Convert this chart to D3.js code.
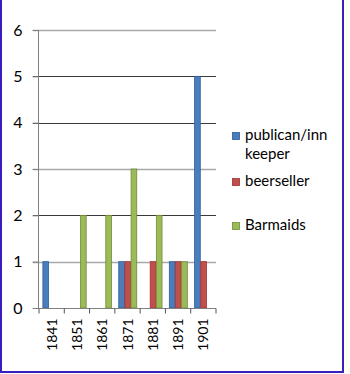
<!DOCTYPE html>
<html><head><meta charset="utf-8">
<script src="https://cdn.jsdelivr.net/npm/d3@7"></script>
<style>
html,body{margin:0;padding:0;background:#fffef4;}
svg{display:block;}
</style></head>
<body>
<script>
const categories = ["1841","1851","1861","1871","1881","1891","1901"];
const seriesNames = ["publican/inn keeper","beerseller","Barmaids"];
const publican = [1,0,0,1,0,1,5];
const beerseller = [0,0,0,1,1,1,1];
const barmaids = [0,2,2,3,2,1,0];
const yTicks = [0,1,2,3,4,5,6];
const legendLines = [["publican/inn","keeper"],["beerseller"],["Barmaids"]];

const series = [publican, beerseller, barmaids];
const fills = ["#4a7ebb","#c0504d","#9bbb59"];
const strokes = ["#2c5d9c","#a3302d","#6f8b36"];
const W = 350, H = 374;
const svg = d3.select("body").append("svg").attr("width", W).attr("height", H);

// frame
svg.append("rect").attr("x",0).attr("y",0).attr("width",344).attr("height",373).attr("fill","#fff");
svg.append("path").attr("d","M1,0 V372 H343 V0").attr("fill","none").attr("stroke","#3a1dbf").attr("stroke-width",2);

const x = d3.scaleBand().domain(categories).range([39,216]).paddingInner(0).paddingOuter(0);
const xs = d3.scaleBand().domain(d3.range(3)).range([0, x.bandwidth()]).paddingInner(0).paddingOuter(0.55);
const y = d3.scaleLinear().domain([0,6]).range([308,30]);

const font = "Lato, 'Open Sans', sans-serif";

// gridlines
const gridColor = {0:"#888",1:"#a8a8a8",2:"#3a3a3a",3:"#a8a8a8",4:"#3a3a3a",5:"#3a3a3a",6:"#a8a8a8"};
svg.append("g").selectAll("line").data(yTicks.filter(d=>d>0)).join("line")
  .attr("x1",33).attr("x2",216)
  .attr("y1",d=>Math.round(y(d))+0.5).attr("y2",d=>Math.round(y(d))+0.5)
  .attr("stroke",d=>gridColor[d]).attr("stroke-width",d=>gridColor[d]==="#a8a8a8"?1.6:1);

// bars
const groups = svg.append("g").selectAll("g").data(categories).join("g")
  .attr("transform",d=>`translate(${x(d)},0)`);
groups.selectAll("rect").data((c,i)=>series.map((s,k)=>({k, v:s[i]})).filter(d=>d.v>0)).join("rect")
  .attr("x",d=>xs(d.k)+0.5).attr("width",xs.bandwidth()-0.5)
  .attr("y",d=>y(d.v)).attr("height",d=>y(0)-y(d.v))
  .attr("fill",d=>fills[d.k]).attr("stroke",d=>strokes[d.k]).attr("stroke-width",0.8);

// y axis
const yAxis = d3.axisLeft(y).tickValues(yTicks).tickFormat(d3.format("d")).tickSize(6).tickPadding(10);
const gy = svg.append("g").attr("transform","translate(38.5,0)").call(yAxis);
gy.select(".domain").attr("stroke","#808080").attr("d","M0,30V308");
gy.selectAll(".tick line").attr("stroke","#808080");
gy.selectAll(".tick text").attr("font-family",font).attr("font-size",16).attr("fill","#000");

// x axis
const gx = svg.append("g").attr("transform","translate(0,308.5)");
gx.append("line").attr("x1",33).attr("x2",216).attr("stroke","#808080");
gx.selectAll("line.t").data(categories.concat([null])).join("line").attr("class","t")
  .attr("x1",(d,i)=>i<categories.length?x(d):x.range()[1]).attr("x2",(d,i)=>i<categories.length?x(d):x.range()[1])
  .attr("y1",0).attr("y2",5).attr("stroke","#555");
gx.selectAll("text").data(categories).join("text")
  .attr("transform",d=>`translate(${x(d)+x.bandwidth()/2+5},10) rotate(-90)`)
  .attr("text-anchor","end").attr("font-family",font).attr("font-size",14).text(d=>d);

// legend
const lg = svg.append("g");
const legY = [140, 186, 230];
legendLines.forEach((lines,i)=>{
  lg.append("rect").attr("x",232.5).attr("y",legY[i]-7.5).attr("width",7).attr("height",7)
    .attr("fill",fills[i]).attr("stroke",strokes[i]).attr("stroke-width",0.8);
  lines.forEach((t,j)=>{
    lg.append("text").attr("x",245).attr("y",legY[i]+j*19).attr("font-family",font)
      .attr("font-size",15).attr("fill","#000").text(t);
  });
});
</script>
</body></html>
